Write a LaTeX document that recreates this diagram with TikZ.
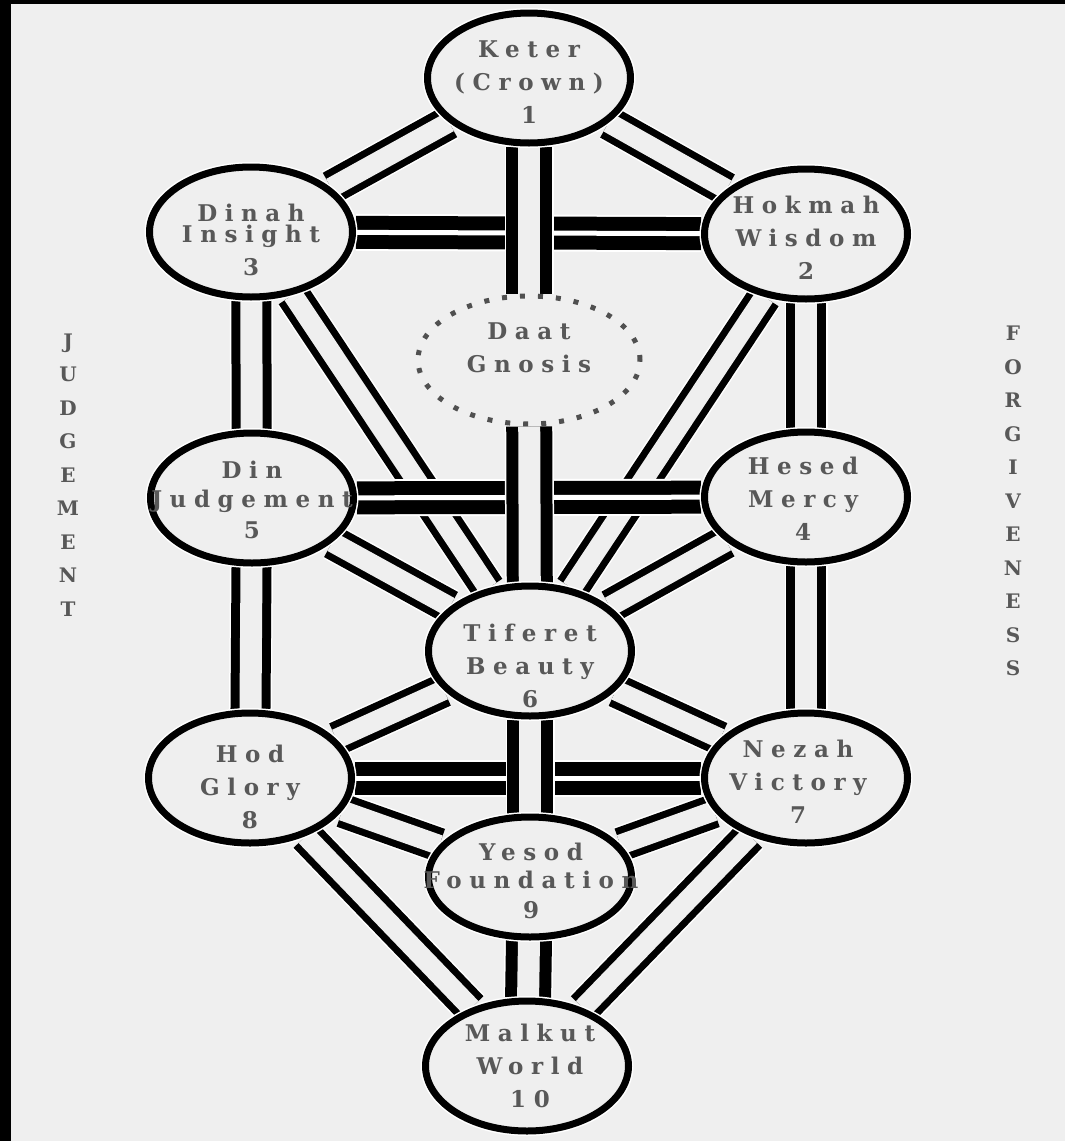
\documentclass[tikz,border=0pt]{standalone}
\usepackage{fontspec}
\usetikzlibrary{shapes.geometric}
\newfontfamily\sefont[LetterSpace=33]{DejaVu Serif}
\newfontfamily\sidefont[LetterSpace=0]{DejaVu Serif}
\definecolor{bg}{RGB}{239,239,239}
\definecolor{txt}{RGB}{88,88,88}
\definecolor{dotc}{RGB}{80,80,80}
\pgfdeclarelayer{back}
\pgfdeclarelayer{paths}
\pgfsetlayers{back,paths,main}
\begin{document}
\begin{tikzpicture}[x=1pt,y=-1pt,
  sef/.style={ellipse, draw=black, line width=7pt, fill=bg, inner sep=0pt,
    minimum width=203pt, minimum height=130pt,
    preaction={draw=white, line width=10pt}},
  gnosis/.style={ellipse, draw=dotc, line width=5pt, fill=bg, inner sep=0pt,
    minimum width=222pt, minimum height=128pt, dash pattern=on 5pt off 13pt},
  lbl/.style={align=center, inner sep=0pt, text=txt,
    font=\sefont\bfseries\fontsize{23}{33}\selectfont},
  side/.style={align=center, inner sep=0pt, text=txt,
    font=\sidefont\bfseries\fontsize{20}{33.5}\selectfont},
  diagpath/.style={draw=black, line width=7pt, double=bg, double distance=20pt,
    preaction={draw=white, line width=37pt}},
  colpath/.style={draw=black, line width=9pt, double=bg, double distance=22pt,
    preaction={draw=white, line width=43pt}},
  hpath/.style={draw=black, line width=14pt, double=white, double distance=5pt,
    preaction={draw=white, line width=37pt}},
  vpath/.style={draw=black, line width=12pt, double=bg, double distance=22pt,
    preaction={draw=white, line width=49pt}}]
\useasboundingbox (0,0) rectangle (1065,1141);
\begin{pgfonlayer}{back}
  \fill[black] (0,0) rectangle (1065,1141);
  \fill[bg] (11,4) rectangle (1065,1141);
\end{pgfonlayer}

% sefirot
\node[sef] (keter)   at (529,78)   {};
\node[sef] (binah)   at (251,232)  {};
\node[sef] (hokmah)  at (806,234)  {};
\node[gnosis] (daat) at (529,360)  {};
\node[sef] (din)     at (252,498)  {};
\node[sef] (hesed)   at (806,497)  {};
\node[sef] (tiferet) at (530,651)  {};
\node[sef] (hod)     at (250,778)  {};
\node[sef] (nezah)   at (806,778)  {};
\node[sef, minimum height=120pt] (yesod) at (530,877) {};
\node[sef] (malkut)  at (527,1066) {};

\begin{pgfonlayer}{paths}
  % diagonal paths
  \draw[diagpath] (keter) -- (binah);
  \draw[diagpath] (keter) -- (hokmah);
  \draw[diagpath] (binah) -- (tiferet);
  \draw[diagpath] (hokmah) -- (tiferet);
  \draw[diagpath] (din) -- (tiferet);
  \draw[diagpath] (hesed) -- (tiferet);
  \draw[diagpath] (tiferet) -- (hod);
  \draw[diagpath] (tiferet) -- (nezah);
  \draw[diagpath] (hod) -- (yesod);
  \draw[diagpath] (nezah) -- (yesod);
  \draw[diagpath] (hod) -- (malkut);
  \draw[diagpath] (nezah) -- (malkut);
  % side pillars
  \draw[colpath] (binah) -- (din);
  \draw[colpath] (din) -- (hod);
  \draw[colpath] (hokmah) -- (hesed);
  \draw[colpath] (hesed) -- (nezah);
  % horizontal paths
  \draw[hpath] (binah) -- (hokmah);
  \draw[hpath] (din) -- (hesed);
  \draw[hpath] (hod) -- (nezah);
  % middle pillar
  \draw[vpath] (keter) -- (daat);
  \draw[vpath] (daat) -- (tiferet);
  \draw[vpath] (tiferet) -- (yesod);
  \draw[vpath] (yesod) -- (malkut);
\end{pgfonlayer}

% labels
\node[lbl] (keter-t)   at (529,82)   {Keter\\(Crown)\\1};
\node[lbl] (binah-t)   at (251,240)  {Dinah\\[-12pt]Insight\\3};
\node[lbl] (hokmah-t)  at (806,238)  {Hokmah\\Wisdom\\2};
\node[lbl] (daat-t)    at (529,348)  {Daat\\Gnosis};
\node[lbl] (din-t)     at (252,500)  {Din\\[-4pt]Judgement\\[-2pt]5};
\node[lbl] (hesed-t)   at (803,499)  {Hesed\\Mercy\\4};
\node[lbl] (tiferet-t) at (530,666)  {Tiferet\\Beauty\\6};
\node[lbl] (hod-t)     at (250,787)  {Hod\\Glory\\8};
\node[lbl] (nezah-t)   at (798,782)  {Nezah\\Victory\\7};
\node[lbl] (yesod-t)   at (531,881)  {Yesod\\[-5pt]Foundation\\[-3pt]9};
\node[lbl] (malkut-t)  at (530,1066) {Malkut\\World\\10};

\node[side] (judgement) at (68,475)
  {J\\U\\D\\G\\E\\M\\E\\N\\T};
\node[side] (forgiveness) at (1013,501)
  {F\\O\\R\\G\\I\\V\\E\\N\\E\\S\\S};
\end{tikzpicture}
\end{document}
